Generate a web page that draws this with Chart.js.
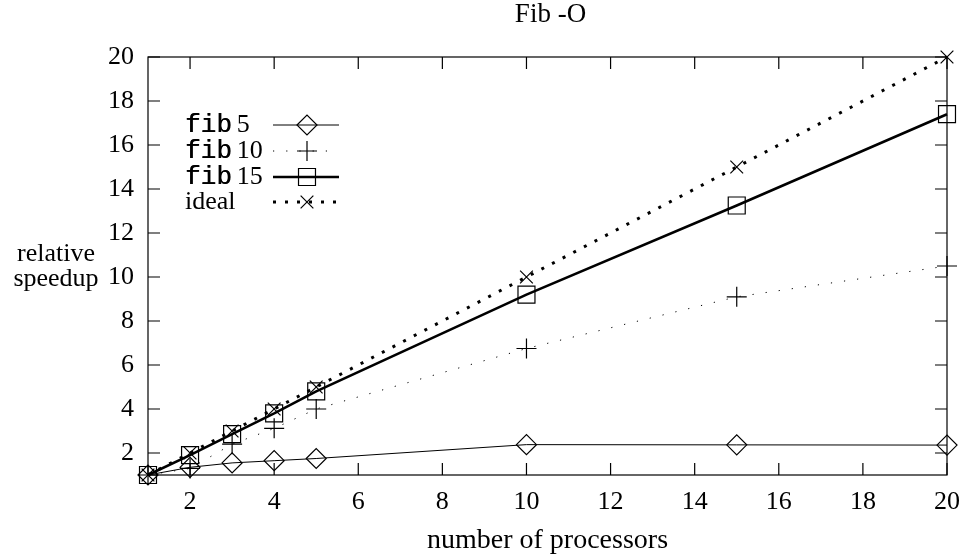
<!DOCTYPE html>
<html><head><meta charset="utf-8">
<script src="https://cdn.jsdelivr.net/npm/chart.js@4"></script>
<style>html,body{margin:0;padding:0;background:#fff}#wrap{width:972px;height:556px}</style>
</head><body><div id="wrap"><canvas id="c" width="972" height="556"></canvas></div>
<script>
const chartTitle = 'Fib -O';
const xTitle = 'number of processors';
const yTitleLines = ['relative', 'speedup'];
const processors = [1, 2, 3, 4, 5, 10, 15, 20];
const fib5  = [1, 1.35, 1.55, 1.65, 1.75, 2.38, 2.37, 2.36];
const fib10 = [1, 1.3, 2.4, 3.12, 4.0, 6.75, 9.1, 10.5];
const fib15 = [1, 1.9, 2.86, 3.8, 4.8, 9.2, 13.25, 17.4];
const ideal = [1, 2, 3, 4, 5, 10, 15, 20];
const seriesNames = ['fib 5', 'fib 10', 'fib 15', 'ideal'];
const xTickValues = [2, 4, 6, 8, 10, 12, 14, 16, 18, 20];
const yTickValues = [2, 4, 6, 8, 10, 12, 14, 16, 18, 20];

const SERIF = '"Liberation Serif", "DejaVu Serif", serif';
const MONO = '"Liberation Mono", "DejaVu Sans Mono", monospace';

function pts(vals) { return processors.map((p, i) => ({x: p, y: vals[i]})); }
function ds(label, vals, width, dash, style, radius) {
  return {
    label: label, data: pts(vals), borderColor: '#000', borderWidth: width,
    borderDash: dash, borderCapStyle: 'butt', pointStyle: style, pointRadius: radius,
    pointBorderWidth: 1.2, pointBorderColor: '#000', pointBackgroundColor: 'rgba(0,0,0,0)',
    fill: false, tension: 0, clip: false
  };
}

const gpPlugin = {
  id: 'gp',
  beforeDatasetsDraw(chart) {
    const {ctx, chartArea: a, scales: {x, y}} = chart;
    ctx.save();
    ctx.strokeStyle = '#000'; ctx.lineWidth = 1.2;
    ctx.strokeRect(a.left, a.top, a.right - a.left, a.bottom - a.top);
    const L = 12;
    ctx.beginPath();
    x.ticks.forEach(t => {
      const px = x.getPixelForValue(t.value);
      ctx.moveTo(px, a.bottom); ctx.lineTo(px, a.bottom - L);
      ctx.moveTo(px, a.top); ctx.lineTo(px, a.top + L);
    });
    y.ticks.forEach(t => {
      const py = y.getPixelForValue(t.value);
      ctx.moveTo(a.left, py); ctx.lineTo(a.left + L, py);
      ctx.moveTo(a.right, py); ctx.lineTo(a.right - L, py);
    });
    ctx.stroke();
    ctx.fillStyle = '#000';
    ctx.textAlign = 'center'; ctx.textBaseline = 'middle';
    ctx.font = '27px ' + SERIF;
    ctx.fillText(chartTitle, (a.left + a.right) / 2 + 3, 15);
    ctx.font = '26px ' + SERIF;
    ctx.fillText(yTitleLines[0], 56, 254);
    ctx.fillText(yTitleLines[1], 56, 279);
    ctx.restore();
  },
  afterDatasetsDraw(chart) {
    const ctx = chart.ctx;
    const rows = [125, 151, 177, 202];
    chart.data.datasets.forEach((d, i) => {
      const yy = rows[i];
      ctx.save();
      ctx.fillStyle = '#000'; ctx.textBaseline = 'middle'; ctx.textAlign = 'left';
      let xx = 185;
      const label = d.label;
      if (label.indexOf('fib ') === 0) {
        ctx.font = '26px ' + MONO;
        ctx.fillText('fib', xx, yy);
        ctx.fillText('fib', xx + 0.5, yy);
        xx += ctx.measureText('fib').width + 5;
        ctx.font = '26px ' + SERIF;
        ctx.fillText(label.slice(4), xx, yy);
      } else {
        ctx.font = '26px ' + SERIF;
        ctx.fillText(label, xx, yy);
      }
      ctx.beginPath();
      ctx.setLineDash(d.borderDash || []);
      ctx.lineCap = 'butt';
      ctx.lineWidth = d.borderWidth; ctx.strokeStyle = '#000';
      ctx.moveTo(273, yy); ctx.lineTo(339, yy); ctx.stroke();
      ctx.setLineDash([]);
      ctx.lineWidth = d.pointBorderWidth;
      ctx.fillStyle = 'rgba(0,0,0,0)';
      Chart.helpers.drawPoint(ctx, {pointStyle: d.pointStyle, radius: d.pointRadius, borderWidth: d.pointBorderWidth, rotation: 0}, 307, yy);
      ctx.restore();
    });
  }
};

Chart.defaults.color = '#000';
new Chart(document.getElementById('c'), {
  type: 'line',
  data: {
    datasets: [
      ds(seriesNames[0], fib5, 1, [], 'rectRot', 10),
      ds(seriesNames[1], fib10, 1, [1.2, 12], 'cross', 10),
      ds(seriesNames[2], fib15, 2.6, [], 'rect', 12),
      ds(seriesNames[3], ideal, 3, [3, 9], 'crossRot', 9)
    ]
  },
  options: {
    responsive: false, animation: false, events: [],
    layout: {padding: {top: 57, right: 19, left: 0, bottom: 0}},
    plugins: {legend: {display: false}, title: {display: false}, tooltip: {enabled: false}},
    scales: {
      x: {
        type: 'linear', min: 1, max: 20,
        grid: {display: false, drawTicks: false}, border: {display: false},
        afterBuildTicks: s => { s.ticks = xTickValues.map(v => ({value: v})); },
        afterFit: s => { s.height = 81; },
        ticks: {padding: 12, autoSkip: false, maxRotation: 0, font: {family: SERIF, size: 26, lineHeight: 1.2}},
        title: {display: true, text: xTitle, font: {family: SERIF, size: 28, lineHeight: 1}, padding: {top: 0, bottom: 1}}
      },
      y: {
        type: 'linear', min: 1, max: 20,
        grid: {display: false, drawTicks: false}, border: {display: false},
        afterBuildTicks: s => { s.ticks = yTickValues.map(v => ({value: v})); },
        afterFit: s => { s.width = 148; },
        ticks: {padding: 14, autoSkip: false, font: {family: SERIF, size: 26, lineHeight: 1.2}}
      }
    }
  },
  plugins: [gpPlugin]
});
</script>
</body></html>
